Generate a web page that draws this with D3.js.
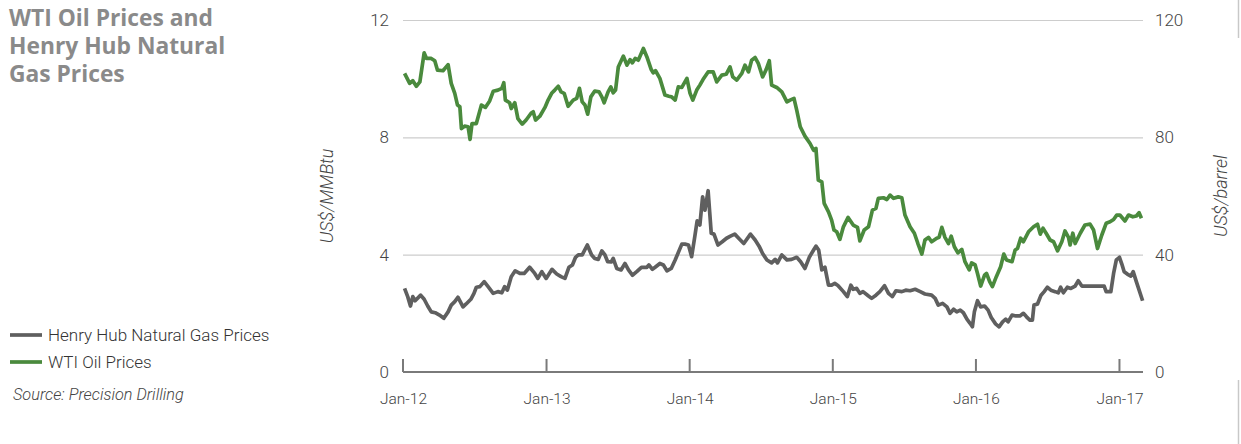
<!DOCTYPE html>
<html lang="en">
<head>
    <meta charset="UTF-8">
    <title>WTI Oil Prices and Henry Hub Natural Gas Prices</title>
    <script src="https://d3js.org/d3.v7.min.js"></script>
    <style>
        body {
            margin: 0;
            background: #fff;
        }

        svg {
            display: block;
        }
    </style>
</head>
<body>
    <div id="chart"></div>

    <script>
        const width = 1241;
        const height = 444;

        // Henry Hub natural gas, US$/MMBtu (left axis)
        const gasDates = ["2012-01-05","2012-01-13","2012-01-20","2012-01-26","2012-02-01","2012-02-15","2012-02-24","2012-03-04","2012-03-13","2012-03-23","2012-04-03","2012-04-14","2012-04-25","2012-05-03","2012-05-12","2012-05-20","2012-06-02","2012-06-10","2012-06-22","2012-06-30","2012-07-06","2012-07-15","2012-07-26","2012-08-05","2012-08-18","2012-08-30","2012-09-09","2012-09-16","2012-09-23","2012-10-03","2012-10-13","2012-10-25","2012-11-05","2012-11-19","2012-12-02","2012-12-10","2012-12-20","2012-12-31","2013-01-15","2013-01-27","2013-02-07","2013-02-17","2013-02-27","2013-03-08","2013-03-16","2013-03-23","2013-04-02","2013-04-15","2013-04-26","2013-05-04","2013-05-13","2013-05-22","2013-05-30","2013-06-06","2013-06-15","2013-06-20","2013-06-29","2013-07-10","2013-07-20","2013-07-29","2013-08-08","2013-08-19","2013-08-31","2013-09-14","2013-09-19","2013-09-28","2013-10-05","2013-10-17","2013-10-26","2013-11-04","2013-11-15","2013-11-25","2013-12-02","2013-12-12","2013-12-20","2013-12-29","2014-01-06","2014-01-14","2014-01-20","2014-01-27","2014-02-03","2014-02-09","2014-02-17","2014-02-21","2014-02-25","2014-03-04","2014-03-14","2014-03-25","2014-04-05","2014-04-15","2014-04-26","2014-05-09","2014-05-19","2014-06-05","2014-06-17","2014-06-27","2014-07-06","2014-07-17","2014-07-29","2014-08-07","2014-08-13","2014-08-24","2014-09-06","2014-09-18","2014-10-01","2014-10-11","2014-10-22","2014-11-02","2014-11-13","2014-11-19","2014-11-26","2014-12-04","2014-12-12","2014-12-21","2014-12-29","2015-01-06","2015-01-14","2015-01-28","2015-02-07","2015-02-16","2015-02-22","2015-03-03","2015-03-11","2015-03-19","2015-04-02","2015-04-10","2015-04-21","2015-05-01","2015-05-13","2015-05-23","2015-06-02","2015-06-11","2015-06-26","2015-07-06","2015-07-17","2015-07-30","2015-08-12","2015-08-24","2015-09-10","2015-09-19","2015-09-27","2015-10-08","2015-10-19","2015-10-27","2015-11-05","2015-11-13","2015-11-22","2015-11-30","2015-12-09","2015-12-17","2015-12-23","2015-12-28","2016-01-05","2016-01-13","2016-01-23","2016-02-01","2016-02-09","2016-02-20","2016-02-29","2016-03-09","2016-03-17","2016-03-23","2016-04-02","2016-04-12","2016-04-22","2016-05-01","2016-05-09","2016-05-17","2016-05-24","2016-05-28","2016-06-06","2016-06-15","2016-06-23","2016-07-01","2016-07-10","2016-07-21","2016-07-29","2016-08-04","2016-08-11","2016-08-21","2016-08-30","2016-09-10","2016-09-18","2016-09-27","2016-10-27","2016-11-23","2016-11-28","2016-12-10","2016-12-17","2016-12-24","2017-01-01","2017-01-07","2017-01-13","2017-01-21","2017-01-30","2017-02-05","2017-02-13","2017-03-01"];
        const gasValues = [2.85,2.57,2.25,2.57,2.43,2.62,2.48,2.25,2.05,2.02,1.94,1.83,2.05,2.28,2.40,2.55,2.22,2.32,2.48,2.68,2.89,2.91,3.08,2.91,2.68,2.74,2.70,2.91,2.79,3.25,3.45,3.36,3.36,3.57,3.36,3.19,3.42,3.19,3.50,3.34,3.25,3.19,3.57,3.65,3.91,3.99,3.99,4.33,3.99,3.87,3.84,4.13,3.99,3.76,3.75,3.87,3.53,3.48,3.70,3.48,3.30,3.42,3.57,3.57,3.65,3.50,3.57,3.70,3.65,3.45,3.53,3.82,4.04,4.36,4.36,4.33,3.93,4.61,5.15,5.01,5.97,5.52,6.18,5.46,4.73,4.70,4.33,4.44,4.56,4.63,4.70,4.52,4.38,4.70,4.50,4.29,4.04,3.82,3.72,3.84,3.72,3.99,3.82,3.84,3.91,3.76,3.53,3.91,4.16,4.29,4.16,3.48,3.57,2.96,2.96,3.02,2.95,2.74,2.57,2.96,2.82,2.85,2.68,2.74,2.59,2.51,2.62,2.74,2.94,2.68,2.57,2.77,2.74,2.79,2.77,2.82,2.74,2.66,2.62,2.51,2.28,2.34,2.22,2.00,2.14,2.05,2.11,2.02,1.80,1.66,1.54,2.05,2.43,2.22,2.25,2.11,1.86,1.64,1.54,1.71,1.80,1.71,1.94,1.91,1.91,2.00,1.88,1.77,1.77,2.28,2.32,2.62,2.74,2.89,2.79,2.74,2.70,2.89,2.70,2.89,2.85,2.93,3.11,2.93,2.93,2.93,2.74,2.74,3.36,3.82,3.91,3.68,3.42,3.34,3.27,3.42,3.08,2.43];

        // WTI crude oil, US$/barrel (right axis)
        const oilDates = ["2012-01-05","2012-01-18","2012-01-26","2012-02-04","2012-02-13","2012-02-24","2012-03-01","2012-03-13","2012-03-22","2012-03-29","2012-04-12","2012-04-25","2012-05-03","2012-05-12","2012-05-19","2012-05-25","2012-05-29","2012-06-06","2012-06-15","2012-06-20","2012-06-25","2012-07-06","2012-07-19","2012-07-29","2012-08-09","2012-08-18","2012-08-30","2012-09-09","2012-09-14","2012-09-18","2012-09-29","2012-10-03","2012-10-12","2012-10-20","2012-10-31","2012-11-10","2012-11-23","2012-11-28","2012-12-04","2012-12-15","2012-12-28","2013-01-05","2013-01-14","2013-01-22","2013-01-31","2013-02-07","2013-02-15","2013-02-25","2013-03-10","2013-03-19","2013-03-26","2013-04-02","2013-04-09","2013-04-16","2013-04-24","2013-05-04","2013-05-15","2013-05-22","2013-05-28","2013-06-07","2013-06-14","2013-06-20","2013-06-26","2013-07-03","2013-07-16","2013-07-25","2013-08-02","2013-08-08","2013-08-15","2013-08-23","2013-09-05","2013-09-14","2013-09-25","2013-09-30","2013-10-06","2013-10-17","2013-10-30","2013-11-09","2013-11-16","2013-11-25","2013-12-03","2013-12-12","2013-12-25","2014-01-02","2014-01-09","2014-01-19","2014-01-27","2014-02-04","2014-02-17","2014-03-02","2014-03-11","2014-03-24","2014-04-04","2014-04-14","2014-04-21","2014-05-01","2014-05-14","2014-05-22","2014-05-31","2014-06-08","2014-06-17","2014-06-25","2014-07-06","2014-07-15","2014-07-23","2014-07-29","2014-08-11","2014-08-24","2014-09-06","2014-09-14","2014-09-24","2014-10-01","2014-10-10","2014-10-22","2014-11-04","2014-11-13","2014-11-19","2014-11-25","2014-12-04","2014-12-10","2014-12-21","2014-12-29","2015-01-04","2015-01-11","2015-01-19","2015-01-28","2015-02-09","2015-02-22","2015-03-05","2015-03-11","2015-03-22","2015-04-02","2015-04-12","2015-04-21","2015-04-27","2015-05-10","2015-05-19","2015-05-27","2015-06-05","2015-06-17","2015-06-26","2015-07-04","2015-07-17","2015-07-28","2015-08-06","2015-08-16","2015-08-24","2015-09-02","2015-09-10","2015-09-23","2015-09-29","2015-10-06","2015-10-14","2015-10-23","2015-10-30","2015-11-07","2015-11-16","2015-11-26","2015-12-04","2015-12-15","2015-12-21","2015-12-30","2016-01-05","2016-01-13","2016-01-23","2016-01-28","2016-02-05","2016-02-12","2016-02-22","2016-03-04","2016-03-12","2016-03-19","2016-04-02","2016-04-10","2016-04-16","2016-04-24","2016-05-01","2016-05-14","2016-05-27","2016-06-06","2016-06-13","2016-06-20","2016-06-28","2016-07-08","2016-07-17","2016-07-27","2016-08-07","2016-08-15","2016-08-24","2016-08-28","2016-09-04","2016-09-10","2016-09-23","2016-10-05","2016-10-18","2016-10-27","2016-11-06","2016-11-17","2016-11-28","2016-12-08","2016-12-17","2016-12-25","2017-01-02","2017-01-15","2017-01-24","2017-02-04","2017-02-13","2017-02-20","2017-02-26"];
        const oilValues = [101.8,98.4,99.3,97.4,98.9,108.8,106.9,106.9,106.1,102.9,102.7,104.8,98.4,95.0,91.0,90.4,83.0,83.8,83.6,79.3,84.7,84.7,91.0,90.2,92.4,95.7,96.1,96.7,98.6,92.7,91.8,89.8,91.8,86.4,84.5,85.9,88.3,88.7,85.9,87.2,90.2,92.7,95.0,96.1,97.4,95.5,95.0,90.6,92.7,93.3,96.7,92.1,91.0,87.9,93.8,95.8,95.5,93.8,91.8,95.5,97.2,95.2,96.1,104.0,107.7,104.6,106.5,105.4,106.9,106.3,110.3,107.4,103.1,102.0,102.7,100.1,94.4,94.0,93.8,92.7,97.2,97.0,100.1,95.0,92.7,96.1,97.8,99.7,102.3,102.3,98.9,101.2,101.5,104.0,100.6,99.5,101.8,104.6,102.3,106.3,107.2,105.2,100.6,103.1,106.1,97.8,97.0,95.5,92.1,92.7,93.3,89.3,83.6,80.4,77.9,75.6,76.2,65.4,64.8,57.5,54.6,51.8,48.4,47.8,45.2,49.5,52.7,50.1,49.3,44.7,48.4,49.5,55.2,55.8,59.2,59.4,58.8,60.3,59.2,59.7,59.4,53.5,49.5,47.3,43.8,40.2,45.0,45.9,44.4,45.6,45.9,49.3,45.9,43.8,46.3,42.7,40.6,41.8,37.6,34.8,37.2,36.5,33.6,29.3,33.0,33.6,30.8,29.1,32.5,35.9,40.2,38.2,37.6,41.6,42.1,45.6,44.4,47.8,49.5,50.4,47.0,49.0,47.3,45.0,44.4,41.3,44.4,48.1,45.9,43.3,47.3,43.8,47.3,50.1,50.4,48.4,42.1,46.7,50.7,51.2,52.0,53.5,53.5,51.5,53.5,52.9,53.2,54.3,52.4];

        const gasTicks = [0, 4, 8, 12];
        const oilTicks = [0, 40, 80, 120];
        const yearTicks = ["2012-01-01","2013-01-01","2014-01-01","2015-01-01","2016-01-01","2017-01-01"];
        const xStart = "2012-01-01";
        const xEnd = "2017-03-02";

        const titleLines = ["WTI Oil Prices and", "Henry Hub Natural", "Gas Prices"];
        const seriesNames = ["Henry Hub Natural Gas Prices", "WTI Oil Prices"];
        const seriesColors = ["#5f5f5f", "#4a8a3d"];

        const parse = d3.timeParse("%Y-%m-%d");
        const gasData = gasDates.map((d, i) => ({ date: parse(d), value: gasValues[i] }));
        const oilData = oilDates.map((d, i) => ({ date: parse(d), value: oilValues[i] }));

        const plot = { left: 403, right: 1143, top: 20, bottom: 372 };

        const x = d3.scaleTime()
            .domain([parse(xStart), parse(xEnd)])
            .range([plot.left, plot.right]);
        const yGas = d3.scaleLinear().domain([0, 12]).range([plot.bottom, plot.top]);
        const yOil = d3.scaleLinear().domain([0, 120]).range([plot.bottom, plot.top]);

        const svg = d3.select("#chart").append("svg")
            .attr("width", width)
            .attr("height", height)
            .style("font-family", "Roboto, 'Liberation Sans', sans-serif");

        // page edge marks on the right
        svg.append("line").attr("x1", 1238.5).attr("x2", 1238.5).attr("y1", 0).attr("y2", 38)
            .attr("stroke", "#c8c8c8").attr("stroke-width", 1.5);
        svg.append("line").attr("x1", 1238.5).attr("x2", 1238.5).attr("y1", 380).attr("y2", 444)
            .attr("stroke", "#c8c8c8").attr("stroke-width", 1.5);

        // title
        svg.append("text")
            .attr("fill", "#8a8a8a")
            .style("font-family", "'Open Sans', sans-serif")
            .style("font-weight", 700)
            .style("font-size", "22.8px")
            .selectAll("tspan")
            .data(titleLines)
            .enter().append("tspan")
            .attr("x", 9)
            .attr("y", (d, i) => 26 + i * 28)
            .text(d => d);

        // gridlines
        svg.append("g")
            .selectAll("line")
            .data(gasTicks.filter(t => t > 0))
            .enter().append("line")
            .attr("x1", plot.left)
            .attr("x2", plot.right)
            .attr("y1", d => yGas(d) + 0.5)
            .attr("y2", d => yGas(d) + 0.5)
            .attr("stroke", "#cdcdcd")
            .attr("stroke-width", 1.2);

        // bottom axis
        const xAxis = d3.axisBottom(x)
            .tickValues(yearTicks.map(parse))
            .tickFormat(d3.timeFormat("%b-%y"))
            .tickSize(0)
            .tickPadding(21);
        const gx = svg.append("g")
            .attr("transform", `translate(0,${plot.bottom})`)
            .call(xAxis);
        gx.select(".domain").remove();
        gx.selectAll("text")
            .attr("fill", "#444")
            .style("font-size", "15.5px")
            .style("font-weight", 300)
            .style("font-family", "Roboto, sans-serif");

        svg.append("line")
            .attr("x1", plot.left).attr("x2", plot.right)
            .attr("y1", plot.bottom).attr("y2", plot.bottom)
            .attr("stroke", "#7a7a7a").attr("stroke-width", 2);
        svg.append("g")
            .selectAll("line")
            .data(yearTicks.map(parse))
            .enter().append("line")
            .attr("x1", d => x(d)).attr("x2", d => x(d))
            .attr("y1", plot.bottom).attr("y2", plot.bottom - 13)
            .attr("stroke", "#7a7a7a").attr("stroke-width", 2);

        // left axis labels
        const gl = svg.append("g")
            .attr("transform", `translate(${plot.left},0)`)
            .call(d3.axisLeft(yGas).tickValues(gasTicks).tickSize(0).tickPadding(14));
        gl.select(".domain").remove();

        // right axis labels
        const gr = svg.append("g")
            .attr("transform", `translate(${plot.right},0)`)
            .call(d3.axisRight(yOil).tickValues(oilTicks).tickSize(0).tickPadding(12));
        gr.select(".domain").remove();

        [gl, gr].forEach(g => g.selectAll("text")
            .attr("fill", "#444")
            .style("font-size", "17px")
            .style("font-weight", 300)
            .style("font-family", "Roboto, sans-serif"));

        // axis titles
        svg.append("text")
            .attr("transform", "translate(333,196) rotate(-90)")
            .attr("text-anchor", "middle")
            .attr("fill", "#444")
            .style("font-size", "18px")
            .style("font-style", "italic")
            .style("font-weight", 300)
            .text("US$/MMBtu");
        svg.append("text")
            .attr("transform", "translate(1227,196) rotate(-90)")
            .attr("text-anchor", "middle")
            .attr("fill", "#444")
            .style("font-size", "18px")
            .style("font-style", "italic")
            .style("font-weight", 300)
            .text("US$/barrel");

        // lines
        const gasLine = d3.line().x(d => x(d.date)).y(d => yGas(d.value));
        const oilLine = d3.line().x(d => x(d.date)).y(d => yOil(d.value));

        svg.append("path")
            .datum(gasData)
            .attr("fill", "none")
            .attr("stroke", seriesColors[0])
            .attr("stroke-width", 3.7)
            .attr("stroke-linejoin", "round")
            .attr("d", gasLine);

        svg.append("path")
            .datum(oilData)
            .attr("fill", "none")
            .attr("stroke", seriesColors[1])
            .attr("stroke-width", 3.7)
            .attr("stroke-linejoin", "round")
            .attr("d", oilLine);

        // legend
        const legend = svg.append("g")
            .selectAll("g")
            .data(seriesNames)
            .enter().append("g")
            .attr("transform", (d, i) => `translate(10,${335 + i * 27})`);
        legend.append("line")
            .attr("x1", 0).attr("x2", 32)
            .attr("stroke", (d, i) => seriesColors[i])
            .attr("stroke-width", 3.7);
        legend.append("text")
            .attr("x", 38)
            .attr("y", 6)
            .attr("fill", "#333")
            .style("font-size", "17px")
            .style("font-weight", 300)
            .text(d => d);

        // source
        svg.append("text")
            .attr("x", 13)
            .attr("y", 400)
            .attr("fill", "#444")
            .style("font-size", "16.3px")
            .style("font-style", "italic")
            .style("font-weight", 300)
            .text("Source: Precision Drilling");
    </script>
</body>
</html>
